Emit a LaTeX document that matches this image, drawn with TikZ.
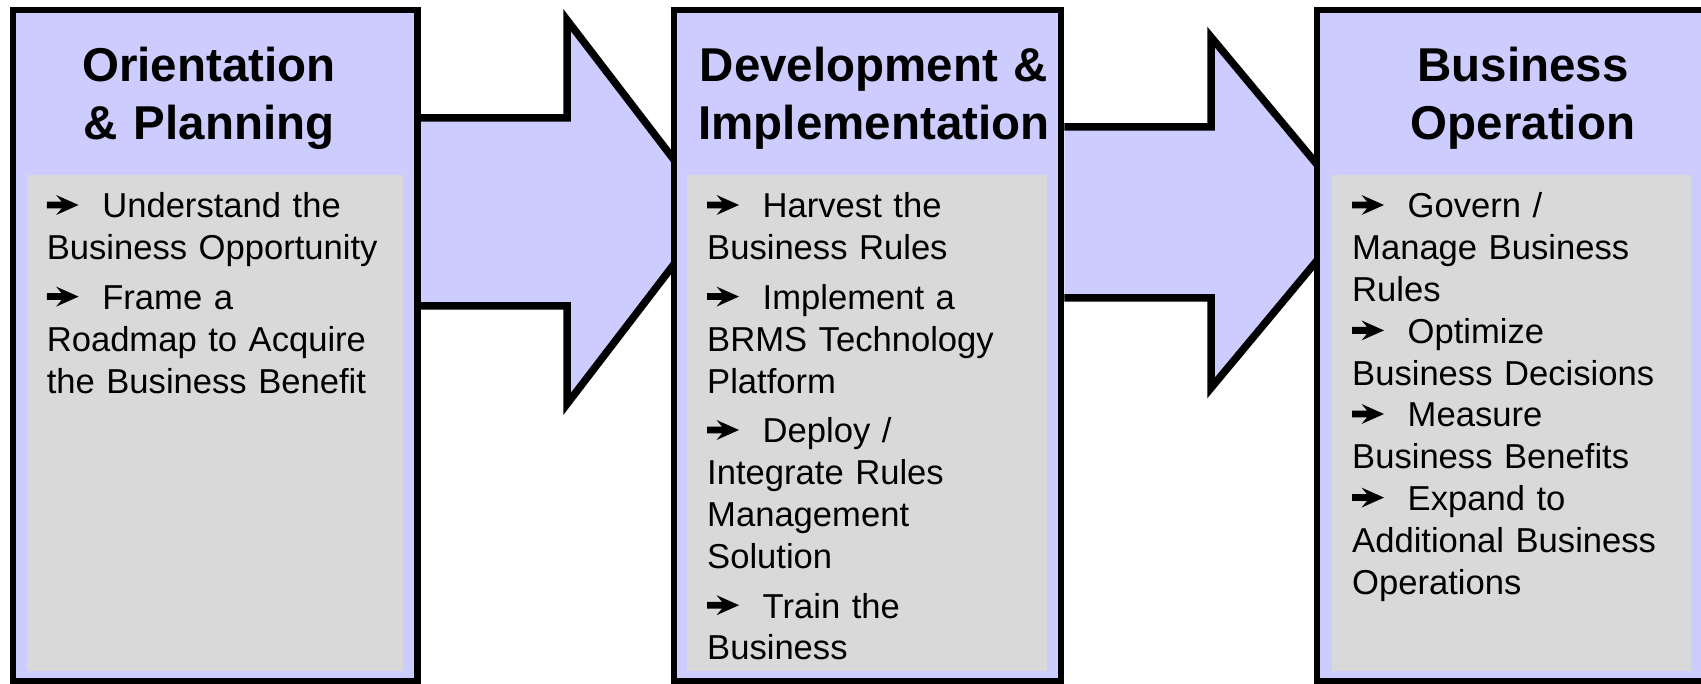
\documentclass[tikz,border=0pt]{standalone}
\usepackage{fontspec}
\setmainfont{Liberation Sans}
\usepackage{tikz}
\usetikzlibrary{backgrounds}
\definecolor{phasefill}{RGB}{204,204,255}
\definecolor{panelgray}{RGB}{217,217,217}
\newcommand{\stepmark}{\makebox[55.5pt][l]{\tikz[x=1pt,y=1pt,baseline=0pt]
    \fill[black] (1.7,9.6) -- (16.5,9.6) -- (11,3) -- (33.5,13) -- (11,23)
        -- (16.5,16.4) -- (1.7,16.4) -- cycle;}}
\tikzset{%
    phasebox/.style={draw=black, fill=phasefill, line width=6.5pt, inner sep=0pt},
    phasetitle/.style={anchor=base, align=center, text width=380pt, inner sep=0pt,
        font=\bfseries\fontsize{47.5}{57.5}\selectfont},
    phasetext/.style={anchor=base west, align=left, text width=360pt, inner sep=0pt,
        font=\fontsize{34.6}{41.8}\selectfont},
    blockarrow/.style={draw=black, fill=phasefill, line width=7.5pt, line join=miter}
}

\begin{document}
\begin{tikzpicture}[x=1pt,y=-1pt]
    \useasboundingbox (0,0) rectangle (1701,684);
    % the three phases
    \node[phasebox, minimum width=404.5, minimum height=671] (orient) at (215.25,345.5) {};
    \node[phasebox, minimum width=387, minimum height=671] (develop) at (867.5,345.5) {};
    \node[phasebox, minimum width=388, minimum height=671] (operate) at (1511,345.5) {};
    \fill[panelgray] (27,175) rectangle (403,671);
    \fill[panelgray] (687,175) rectangle (1047,671);
    \fill[panelgray] (1332,175) rectangle (1691,671);
    % titles
    \node[phasetitle] (orienttitle) at (209,82) {Orientation\\ \& Planning};
    \node[phasetitle] (developtitle) at (874,82) {Development \&\\ Implementation};
    \node[phasetitle] (operatetitle) at (1523,82) {Business\\ Operation};
    % steps
    \node[phasetext] (orienttext) at (46.6,218) {\stepmark Understand the\\
        Business Opportunity\\[8pt]
        \stepmark Frame a\\ Roadmap to Acquire\\ the Business Benefit};
    \node[phasetext] (developtext) at (707,218) {\stepmark Harvest the\\
        Business Rules\\[8pt]
        \stepmark Implement a\\ BRMS Technology\\ Platform\\[8pt]
        \stepmark Deploy /\\ Integrate Rules\\ Management\\ Solution\\[8pt]
        \stepmark Train the\\ Business};
    \node[phasetext] (operatetext) at (1352,218) {\stepmark Govern /\\
        Manage Business\\ Rules\\
        \stepmark Optimize\\ Business Decisions\\
        \stepmark Measure\\ Business Benefits\\
        \stepmark Expand to\\ Additional Business\\ Operations};
    % block arrows behind the boxes
    \begin{scope}[on background layer]
        \coordinate (tipa) at (714,212);
        \coordinate (tipb) at (1357,212.5);
        \draw[blockarrow] (orient.east |- 0,118) -| (567,20) -- (tipa)
            -- (567,404) |- (orient.east |- 0,306);
        \draw[blockarrow] (develop.east |- 0,127) -| (1211,37) -- (tipb)
            -- (1211,388) |- (develop.east |- 0,298);
    \end{scope}
\end{tikzpicture}
\end{document}
